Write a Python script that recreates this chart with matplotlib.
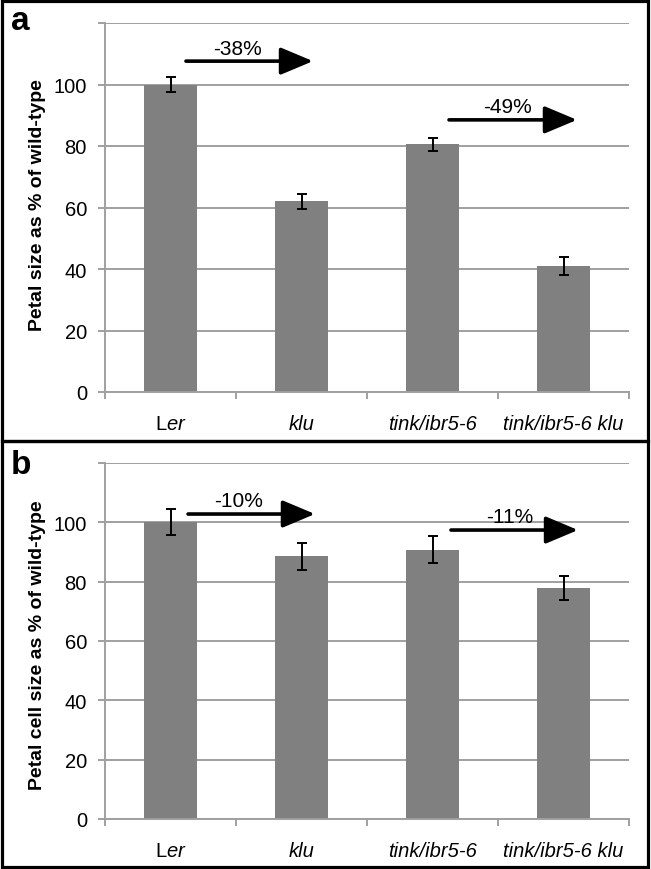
import matplotlib
matplotlib.use("Agg")
import matplotlib.pyplot as plt
from matplotlib.patches import Rectangle
import numpy as np

plt.rcParams['font.family'] = ['Liberation Sans', 'DejaVu Sans']
plt.rcParams['mathtext.fontset'] = 'custom'
plt.rcParams['mathtext.rm'] = 'Liberation Sans'
plt.rcParams['mathtext.it'] = 'Liberation Sans:italic'

# ---- data ----
categories = ["Ler", "klu", "tink/ibr5-6", "tink/ibr5-6 klu"]
petal_size = [100, 62, 80.5, 41]
petal_size_err = [2.3, 2.5, 2.2, 2.8]
cell_size = [100, 88.6, 90.8, 77.9]
cell_size_err = [4.4, 4.6, 4.5, 4.0]
yticks = [0, 20, 40, 60, 80, 100]
change_a = ["-38%", "-49%"]
change_b = ["-10%", "-11%"]

W, H = 651, 870
fig = plt.figure(figsize=(W / 100, H / 100), dpi=100)

bar_color = "#808080"
grid_color = "#a0a0a0"

def fmt_label(c):
    if c == "Ler":
        return r"L$\mathit{er}$"
    return c

def make_panel(rect, values, errs, ylabel, letter, letter_y, arrows, texts, ylab_y):
    ax = fig.add_axes(rect)
    x = np.arange(len(categories))
    ax.set_xlim(-0.5, len(categories) - 0.5)
    ax.set_ylim(0, 120)
    ax.set_yticks(yticks + [120])
    ax.set_yticklabels([str(t) for t in yticks] + [""])
    ax.yaxis.grid(True, color=grid_color, lw=1.4)
    ax.set_axisbelow(True)
    ax.bar(x, values, width=0.4, color=bar_color, zorder=2)
    ax.errorbar(x, values, yerr=errs, fmt="none", ecolor="black",
                elinewidth=1.4, capsize=3.4, capthick=1.4, zorder=3)
    for s in ["top", "right"]:
        ax.spines[s].set_visible(False)
    for s in ["left", "bottom"]:
        ax.spines[s].set_color(grid_color)
        ax.spines[s].set_linewidth(1.4)
    ax.set_xticks(x)
    labels = ax.set_xticklabels([fmt_label(c) for c in categories], fontsize=14.5)
    for lab, c in zip(labels, categories):
        if c != "Ler":
            lab.set_fontstyle("italic")
    ax.tick_params(axis="x", which="major", length=0, pad=16)
    ax.set_xticks(np.arange(-0.5, len(categories)), minor=True)
    ax.tick_params(axis="x", which="minor", length=5, color=grid_color, width=1.4)
    ax.tick_params(axis="y", length=5, color=grid_color, width=1.4,
                   labelsize=14.5, pad=8)
    ax.set_ylabel(ylabel, fontsize=14, fontweight="bold")
    ax.yaxis.set_label_coords(-0.113, ylab_y)
    for (x0, x1, y), (tx, ty, t) in zip(arrows, texts):
        ax.annotate("", xy=(x1, y), xytext=(x0, y),
                    arrowprops=dict(arrowstyle="-|>,head_length=1.0,head_width=0.42",
                                    mutation_scale=20, lw=2.6, color="black",
                                    shrinkA=0, shrinkB=0), zorder=5)
        ax.text(tx, ty, t, ha="center", va="center", fontsize=15, zorder=5)
    fig.text(11 / W, 1 - letter_y / H, letter, fontsize=24, fontweight="bold",
             ha="left", va="center")
    return ax

ax_a = make_panel([105 / W, 1 - 393 / H, 524 / W, 369 / H], petal_size, petal_size_err,
                  "Petal size as % of wild-type", "a", 22,
                  [(0.118, 1.088, 107.6), (2.126, 3.103, 88.5)],
                  [(0.508, 111.8, change_a[0]), (2.576, 92.7, change_a[1])], 0.51)
ax_b = make_panel([105 / W, 1 - 820 / H, 524 / W, 356 / H], cell_size, cell_size_err,
                  "Petal cell size as % of wild-type", "b", 466,
                  [(0.134, 1.103, 102.8), (2.141, 3.111, 97.4)],
                  [(0.523, 107.5, change_b[0]), (2.59, 102.0, change_b[1])], 0.49)

# panel frames
for (y0, y1) in [(1.5, 441.5), (441.5, 868)]:
    fig.add_artist(Rectangle((2 / W, 1 - y1 / H), 646 / W, (y1 - y0) / H,
                             transform=fig.transFigure, fill=False,
                             edgecolor="black", lw=2.3))

fig.savefig("out.png", dpi=100)
